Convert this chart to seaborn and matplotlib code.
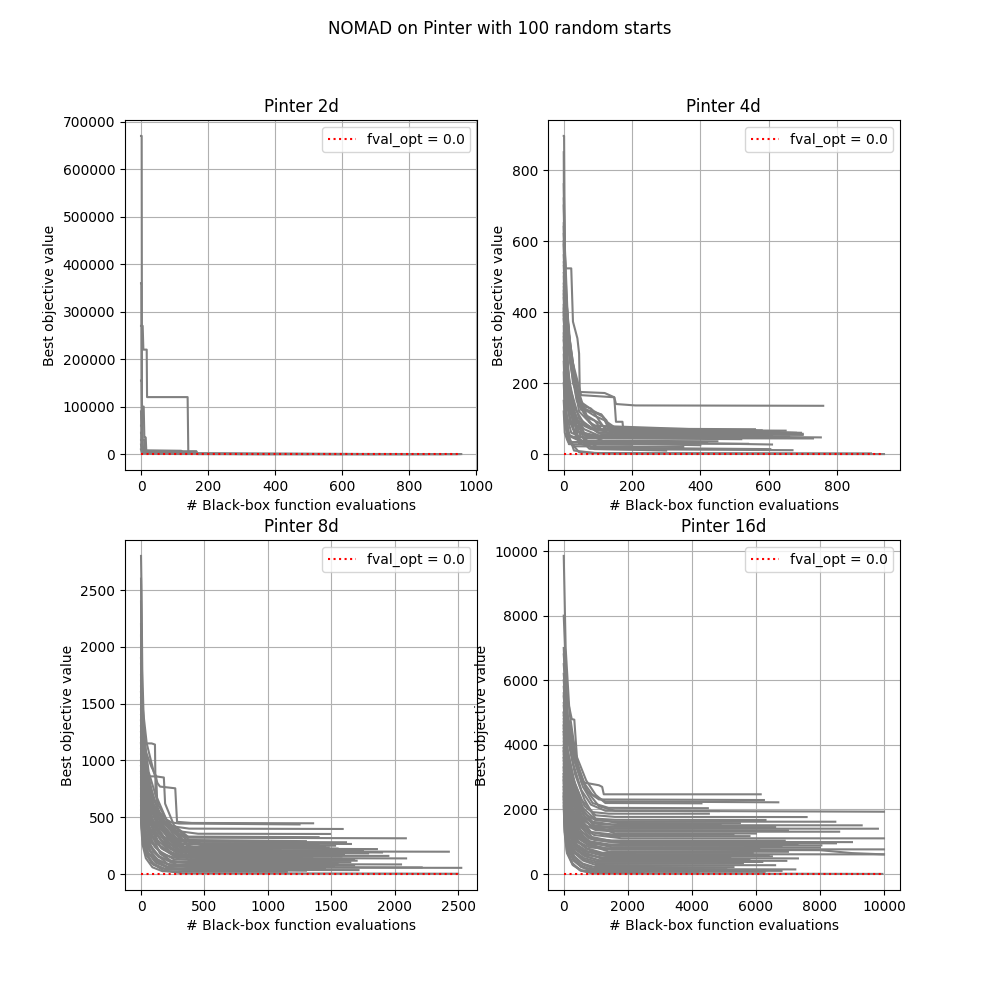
import matplotlib
matplotlib.use("Agg")
import matplotlib.pyplot as plt
import pandas as pd
import seaborn as sns

suptitle = "NOMAD on Pinter with 100 random starts"
panel_titles = ["Pinter 2d", "Pinter 4d", "Pinter 8d", "Pinter 16d"]
x_label = "# Black-box function evaluations"
y_label = "Best objective value"
fval_opt = 0.0

# Each run: list of (evaluation, best objective value) points
runs_2d = [
    [(0, 670000), (2, 670000), (3, 9000), (20, 4000), (60, 800), (955, 0)],
    [(0, 360000), (1, 360000), (2, 5000), (30, 1500), (300, 100), (940, 0)],
    [(0, 270000), (5, 270000), (7, 220000), (17, 220000), (18, 120000), (139, 120000),
     (141, 5000), (165, 5000), (167, 300), (900, 0)],
    [(0, 155000), (2, 155000), (3, 100000), (8, 100000), (10, 35000), (14, 35000),
     (16, 3000), (100, 1000), (700, 0)],
    [(0, 30000), (10, 30000), (12, 6000), (165, 6000), (168, 500), (800, 0)],
    [(0, 60000), (4, 60000), (6, 8000), (120, 7000), (130, 1000), (600, 0)],
    [(0, 20000), (3, 5000), (80, 4000), (100, 200), (950, 0)],
    [(0, 90000), (2, 20000), (6, 2000), (50, 500), (500, 0)],
    [(0, 10000), (5, 3000), (160, 2500), (170, 0), (850, 0)],
    [(0, 45000), (1, 45000), (2, 1000), (400, 0)],
]

runs_4d = [
    [(0, 896), (1, 896), (4, 420), (14, 200), (38, 90), (100, 66), (563, 66)],
    [(0, 850), (1, 600), (6, 523), (22, 523), (27, 373), (40, 326), (45, 283), (47, 175),
     (120, 172), (148, 160), (153, 141), (210, 137), (760, 136)],
    [(0, 760), (3, 590), (15, 300), (51, 166), (148, 160), (153, 91), (172, 91), (176, 55), (660, 55)],
    [(0, 700), (3, 500), (18, 300), (45, 150), (90, 120), (110, 110), (125, 95), (135, 70), (600, 64)],
    [(0, 640), (5, 450), (22, 260), (50, 130), (90, 118), (115, 105), (130, 75), (620, 62)],
    [(0, 590), (6, 400), (30, 220), (65, 110), (90, 95), (110, 70), (640, 58)],
    [(0, 560), (8, 380), (27, 200), (60, 115), (85, 80), (680, 60)],
    [(0, 510), (15, 340), (38, 180), (75, 90), (110, 70), (695, 60)],
    [(0, 480), (12, 300), (45, 120), (90, 75), (150, 52), (753, 47)],
    [(0, 450), (9, 250), (30, 110), (60, 60), (120, 35), (610, 27)],
    [(0, 420), (6, 200), (18, 90), (45, 40), (90, 14), (670, 11)],
    [(0, 400), (8, 240), (22, 120), (50, 50), (100, 18), (605, 14)],
    [(0, 380), (12, 200), (30, 60), (75, 15), (300, 10)],
    [(0, 360), (5, 150), (15, 40), (45, 5), (150, 1), (938, 0)],
    [(0, 340), (9, 180), (38, 90), (80, 70), (140, 65), (500, 64)],
    [(0, 320), (15, 200), (45, 100), (100, 60), (550, 57)],
    [(0, 300), (8, 140), (27, 70), (65, 52), (590, 50)],
    [(0, 280), (6, 120), (22, 60), (60, 45), (520, 42)],
    [(0, 260), (5, 100), (18, 50), (45, 38), (450, 36)],
    [(0, 600), (3, 350), (15, 160), (42, 95), (90, 70), (130, 68), (650, 66)],
    [(0, 540), (9, 420), (20, 300), (37, 160), (70, 120), (90, 108), (120, 95), (160, 68), (580, 67)],
    [(0, 470), (5, 330), (15, 200), (30, 120), (60, 40), (75, 30), (400, 25)],
    [(0, 230), (3, 120), (12, 35), (30, 22), (350, 20)],
    [(0, 650), (2, 480), (8, 300), (22, 150), (45, 30), (90, 18), (250, 15)],
    [(0, 200), (5, 90), (15, 28), (200, 26)],
    [(0, 720), (3, 560), (12, 350), (30, 200), (50, 125), (80, 120), (110, 112), (130, 85),
     (150, 60), (700, 57)],
    [(0, 500), (6, 300), (15, 180), (33, 100), (60, 70), (120, 45), (730, 44)],
    [(0, 440), (3, 260), (15, 130), (38, 65), (75, 48), (660, 48)],
    [(0, 390), (5, 210), (18, 100), (38, 45), (68, 30), (540, 29)],
    [(0, 330), (3, 170), (12, 60), (30, 10), (90, 3), (900, 2)],
    [(0, 620), (4, 460), (16, 330), (28, 250), (45, 140), (80, 128), (100, 100), (120, 72), (560, 70)],
    [(0, 530), (5, 400), (18, 260), (38, 150), (65, 105), (100, 90), (140, 62), (630, 61)],
    [(0, 460), (4, 330), (14, 220), (32, 130), (60, 85), (110, 56), (700, 54)],
    [(0, 410), (3, 280), (12, 170), (28, 95), (55, 60), (100, 52), (610, 51)],
    [(0, 150), (4, 80), (12, 55), (30, 48), (480, 46)],
    [(0, 120), (3, 60), (10, 40), (25, 34), (420, 33)],
]

runs_8d = [
    [(0, 2800), (4, 2500), (10, 1800), (25, 1200), (65, 800), (140, 550), (250, 420), (380, 400), (1590, 397)],
    [(0, 2600), (6, 1700), (20, 1100), (55, 700), (130, 500), (280, 380), (450, 355), (1490, 353)],
    [(0, 1600), (45, 1150), (100, 900), (130, 800), (150, 770), (270, 755), (284, 460), (400, 450), (1357, 447)],
    [(0, 1400), (30, 1100), (80, 950), (115, 870), (124, 859), (180, 850), (190, 620), (260, 430),
     (380, 320), (2088, 315)],
    [(0, 1750), (15, 1300), (60, 900), (140, 600), (230, 420), (360, 300), (500, 285), (1616, 280)],
    [(0, 1550), (30, 1150), (84, 1150), (110, 1140), (115, 700), (200, 480), (330, 300), (480, 270), (1655, 265)],
    [(0, 1900), (8, 1400), (35, 1000), (100, 650), (190, 450), (320, 300), (480, 255), (1530, 250)],
    [(0, 1300), (18, 1000), (65, 700), (160, 450), (290, 280), (450, 225), (1860, 220)],
    [(0, 1200), (25, 900), (85, 600), (190, 380), (350, 230), (600, 200), (2427, 197)],
    [(0, 1100), (18, 800), (60, 550), (150, 350), (280, 220), (480, 185), (1790, 182)],
    [(0, 1000), (14, 750), (50, 500), (130, 300), (260, 170), (450, 142), (2090, 138)],
    [(0, 950), (18, 700), (65, 420), (160, 230), (300, 130), (480, 120), (1700, 118)],
    [(0, 900), (10, 650), (40, 420), (110, 240), (230, 120), (400, 90), (2050, 85)],
    [(0, 850), (8, 600), (35, 380), (95, 200), (210, 90), (380, 62), (2213, 59)],
    [(0, 1050), (18, 700), (65, 400), (150, 180), (280, 80), (430, 57), (2525, 55)],
    [(0, 800), (8, 550), (35, 320), (95, 150), (200, 60), (330, 38), (1715, 35)],
    [(0, 700), (5, 450), (25, 250), (80, 100), (180, 30), (320, 8), (2500, 3)],
    [(0, 2200), (5, 1500), (18, 1000), (50, 700), (110, 520), (200, 430), (330, 300), (500, 250), (1450, 240)],
    [(0, 1650), (14, 1200), (40, 850), (95, 600), (170, 480), (280, 400), (380, 300), (1300, 290)],
    [(0, 1450), (8, 1050), (35, 750), (85, 550), (160, 420), (260, 330), (380, 260), (1400, 255)],
    [(0, 1350), (18, 950), (60, 650), (120, 450), (210, 330), (340, 230), (1550, 225)],
    [(0, 1250), (14, 900), (50, 600), (115, 400), (200, 280), (320, 205), (1620, 200)],
    [(0, 1150), (10, 850), (42, 580), (100, 380), (190, 250), (300, 175), (1480, 170)],
    [(0, 980), (8, 720), (35, 500), (90, 330), (170, 220), (280, 160), (1580, 155)],
    [(0, 880), (7, 650), (30, 450), (80, 280), (160, 180), (260, 145), (1350, 140)],
    [(0, 780), (5, 580), (25, 400), (75, 240), (140, 150), (250, 110), (1650, 105)],
    [(0, 680), (5, 520), (20, 360), (65, 210), (130, 120), (240, 75), (1520, 70)],
    [(0, 600), (4, 480), (18, 330), (50, 200), (115, 100), (230, 50), (1450, 45)],
    [(0, 520), (4, 430), (14, 300), (42, 180), (100, 90), (200, 40), (1300, 30)],
    [(0, 1850), (8, 1300), (25, 900), (75, 600), (150, 420), (250, 330), (370, 210), (1750, 205)],
    [(0, 2000), (7, 1450), (20, 950), (60, 620), (130, 430), (230, 300), (340, 160), (1950, 160)],
    [(0, 1500), (16, 1100), (50, 800), (110, 560), (180, 420), (280, 260), (400, 130), (1680, 128)],
    [(0, 2400), (5, 1600), (18, 1050), (50, 720), (120, 480), (210, 350), (350, 200), (1900, 190)],
    [(0, 1700), (10, 1200), (35, 860), (120, 860), (130, 560), (220, 400), (380, 180), (1600, 175)],
    [(0, 1250), (10, 950), (38, 700), (90, 470), (170, 330), (290, 270), (1200, 265)],
    [(0, 1150), (8, 850), (35, 620), (80, 430), (160, 300), (280, 200), (1000, 195)],
    [(0, 1450), (7, 1000), (25, 700), (75, 480), (150, 350), (260, 240), (400, 100), (1550, 98)],
    [(0, 950), (7, 720), (25, 540), (65, 380), (135, 260), (240, 190), (380, 150), (1250, 148)],
    [(0, 1900), (12, 1300), (40, 900), (95, 620), (170, 500), (240, 455), (300, 445), (1250, 437)],
    [(0, 2100), (6, 1500), (22, 1000), (60, 700), (120, 520), (220, 400), (350, 330), (1400, 325)],
    [(0, 1350), (10, 1000), (40, 700), (95, 470), (180, 330), (300, 240), (1480, 235)],
    [(0, 1150), (10, 850), (40, 580), (95, 400), (180, 270), (300, 190), (1560, 185)],
    [(0, 1000), (8, 760), (30, 520), (80, 340), (160, 230), (280, 165), (1400, 160)],
    [(0, 900), (7, 700), (28, 480), (75, 300), (150, 200), (260, 130), (1620, 125)],
    [(0, 820), (6, 620), (25, 420), (70, 260), (140, 160), (240, 100), (1500, 95)],
    [(0, 750), (5, 560), (22, 380), (60, 220), (130, 130), (220, 80), (1680, 75)],
    [(0, 650), (4, 500), (18, 330), (55, 190), (120, 110), (210, 65), (1380, 60)],
    [(0, 560), (3, 450), (15, 300), (45, 160), (100, 80), (190, 45), (1250, 42)],
    [(0, 480), (3, 400), (12, 260), (38, 140), (90, 60), (170, 25), (1150, 20)],
    [(0, 1600), (10, 1150), (35, 800), (85, 550), (170, 380), (280, 290), (1000, 285)],
    [(0, 1300), (12, 950), (40, 650), (100, 420), (190, 290), (300, 215), (1100, 210)],
]

runs_16d = [
    [(0, 9850), (60, 7000), (180, 5000), (400, 3500), (700, 2600), (1100, 2100), (1600, 1960), (10000, 1931)],
    [(0, 8000), (100, 5500), (250, 4800), (330, 4780), (420, 3500), (550, 2850), (1100, 2750),
     (1200, 2700), (1250, 2470), (6150, 2470)],
    [(0, 7000), (90, 5000), (250, 4000), (450, 3200), (750, 2550), (1100, 2310), (6250, 2293)],
    [(0, 6500), (120, 4800), (350, 3600), (650, 2800), (900, 2450), (1300, 2250), (6700, 2222)],
    [(0, 6000), (110, 4400), (300, 3400), (550, 2600), (850, 2150), (1300, 1960), (4844, 1950)],
    [(0, 5600), (90, 4000), (280, 3000), (550, 2300), (900, 1920), (1400, 1870), (4531, 1869)],
    [(0, 5300), (120, 3800), (350, 2800), (650, 2100), (1000, 1820), (1600, 1770), (7584, 1766)],
    [(0, 5000), (110, 3600), (320, 2600), (600, 1900), (1000, 1660), (1700, 1625), (8480, 1621)],
    [(0, 4800), (100, 3300), (300, 2500), (550, 1800), (950, 1560), (1700, 1515), (9303, 1509)],
    [(0, 4600), (90, 3100), (280, 2300), (550, 1700), (950, 1460), (1700, 1410), (9810, 1405)],
    [(0, 4400), (110, 3000), (330, 2100), (600, 1550), (1000, 1360), (1700, 1315), (8600, 1312)],
    [(0, 4200), (90, 2800), (280, 2000), (550, 1450), (950, 1210), (1800, 1110), (10000, 1106)],
    [(0, 4000), (90, 2700), (280, 1900), (550, 1300), (950, 1060), (1800, 960), (8500, 952)],
    [(0, 3800), (70, 2600), (240, 1800), (500, 1200), (850, 960), (1600, 890), (8044, 888)],
    [(0, 3600), (70, 2400), (220, 1600), (450, 1100), (800, 880), (1500, 770), (10000, 765)],
    [(0, 3400), (70, 2300), (220, 1500), (450, 1000), (800, 830), (1500, 760), (8000, 740),
     (9000, 650), (10000, 610)],
    [(0, 3200), (60, 2200), (200, 1400), (420, 900), (750, 700), (1300, 620), (10000, 610)],
    [(0, 3000), (50, 2000), (180, 1300), (400, 850), (700, 620), (1200, 500), (7313, 485)],
    [(0, 2900), (50, 1900), (180, 1200), (380, 750), (650, 560), (1100, 420), (6950, 410)],
    [(0, 2800), (50, 1800), (160, 1100), (350, 650), (620, 450), (1000, 340), (5594, 331)],
    [(0, 2600), (50, 1700), (150, 1000), (330, 520), (600, 300), (950, 160), (7231, 145)],
    [(0, 2500), (40, 1600), (130, 900), (300, 450), (550, 220), (900, 80), (6272, 70)],
    [(0, 2400), (40, 1500), (130, 850), (300, 420), (550, 220), (850, 155), (5075, 150)],
    [(0, 2300), (30, 1500), (110, 800), (260, 350), (500, 120), (900, 20), (9950, 5)],
    [(0, 5800), (120, 4200), (350, 3100), (650, 2300), (1000, 1700), (1700, 1580), (5500, 1575)],
    [(0, 5200), (110, 3700), (320, 2700), (600, 2000), (950, 1500), (1600, 1260), (6000, 1255)],
    [(0, 4500), (90, 3200), (280, 2400), (550, 1700), (850, 1300), (1500, 1180), (5800, 1175)],
    [(0, 4100), (90, 2900), (260, 2100), (500, 1500), (850, 1100), (1500, 1040), (6900, 1035)],
    [(0, 3900), (90, 2700), (240, 1900), (480, 1300), (800, 1000), (1500, 830), (8000, 825)],
    [(0, 3500), (70, 2500), (220, 1700), (450, 1150), (780, 900), (1400, 700), (7000, 690)],
    [(0, 3300), (70, 2300), (200, 1500), (420, 1000), (720, 780), (1300, 560), (6500, 550)],
    [(0, 3100), (60, 2100), (190, 1350), (400, 900), (700, 650), (1200, 470), (5800, 460)],
    [(0, 2700), (50, 1800), (160, 1100), (350, 700), (620, 500), (1050, 380), (6200, 375)],
    [(0, 6200), (110, 4600), (330, 3500), (600, 2700), (900, 2200), (1400, 2050), (4500, 2040)],
    [(0, 4700), (110, 3400), (320, 2500), (580, 1750), (950, 1400), (1600, 1360), (7000, 1355)],
    [(0, 4300), (90, 3000), (280, 2200), (530, 1550), (880, 1150), (1600, 1000), (9000, 990)],
    [(0, 3700), (70, 2600), (230, 1800), (470, 1250), (800, 950), (1400, 880), (6800, 870)],
    [(0, 3000), (60, 2000), (180, 1250), (380, 800), (650, 600), (1150, 520), (5200, 515)],
    [(0, 2200), (25, 1400), (100, 700), (280, 300), (550, 120), (950, 80), (4200, 75)],
    [(0, 2100), (25, 1300), (100, 650), (280, 280), (550, 100), (1000, 40), (2500, 35)],
    [(0, 4900), (110, 3500), (330, 2600), (600, 1850), (950, 1500), (1600, 1460), (6600, 1455)],
    [(0, 5500), (110, 3900), (330, 2800), (600, 2050), (950, 1720), (1600, 1680), (6300, 1675)],
    [(0, 4400), (90, 3100), (280, 2200), (520, 1600), (850, 1300), (1500, 1230), (5300, 1225)],
    [(0, 3900), (80, 2800), (250, 1950), (480, 1400), (800, 1100), (1400, 1000), (5600, 995)],
    [(0, 3600), (75, 2500), (220, 1700), (450, 1200), (750, 930), (1300, 800), (6100, 795)],
    [(0, 3300), (70, 2300), (210, 1500), (420, 1050), (720, 800), (1200, 660), (5900, 655)],
    [(0, 3100), (60, 2100), (190, 1400), (400, 920), (700, 700), (1150, 580), (6400, 575)],
    [(0, 2900), (55, 1950), (170, 1250), (370, 800), (650, 560), (1100, 430), (5700, 425)],
    [(0, 2700), (50, 1800), (160, 1100), (340, 650), (600, 420), (1000, 280), (6600, 275)],
    [(0, 2500), (45, 1650), (150, 1000), (320, 560), (580, 330), (950, 220), (5300, 215)],
    [(0, 2400), (40, 1550), (140, 900), (300, 480), (560, 260), (900, 110), (6800, 100)],
    [(0, 5000), (100, 3600), (300, 2700), (560, 2000), (900, 1620), (1500, 1540), (4900, 1535)],
    [(0, 4600), (95, 3300), (290, 2400), (540, 1800), (880, 1450), (1500, 1340), (5100, 1335)],
    [(0, 6800), (130, 4900), (380, 3700), (700, 2900), (1000, 2450), (1300, 2200), (4300, 2190)],
    [(0, 3800), (80, 2700), (240, 1850), (480, 1300), (800, 1020), (1400, 920), (7300, 915)],
]

all_runs = [runs_2d, runs_4d, runs_8d, runs_16d]


def to_frame(runs):
    rows = []
    for i, run in enumerate(runs):
        for x, y in run:
            rows.append((i, x, y))
    return pd.DataFrame(rows, columns=["run", "evals", "best"])


fig, axes = plt.subplots(2, 2, figsize=(10, 10))
for ax, title, runs in zip(axes.flat, panel_titles, all_runs):
    df = to_frame(runs)
    sns.lineplot(data=df, x="evals", y="best", units="run", estimator=None,
                 color="gray", linewidth=1.5, ax=ax)
    xmax = df["evals"].max()
    ax.hlines(fval_opt, 0, xmax, colors="red", linestyles=":", linewidth=1.5,
              label=f"fval_opt = {fval_opt}")
    ax.legend(loc="upper right")
    ax.set_title(title)
    ax.set_xlabel(x_label)
    ax.set_ylabel(y_label)
    ax.grid(True)

fig.suptitle(suptitle)
fig.savefig("out.png", dpi=100)
